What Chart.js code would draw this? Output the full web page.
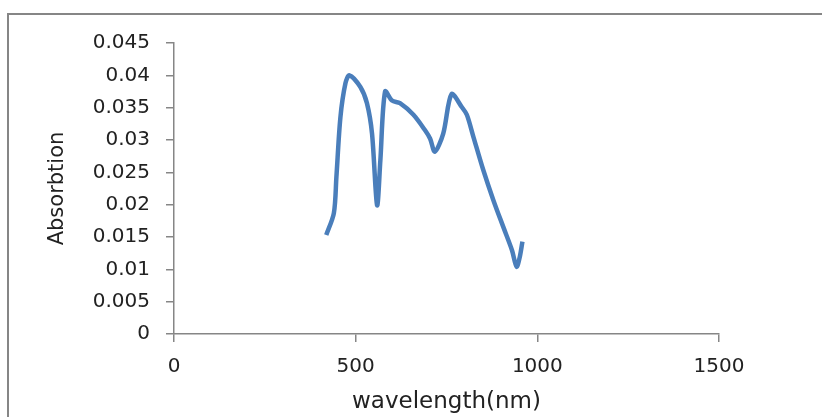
<!DOCTYPE html>
<html>
<head>
<meta charset="utf-8">
<script src="https://cdn.jsdelivr.net/npm/chart.js@4.4.1/dist/chart.umd.min.js"></script>
<style>
  html, body { margin: 0; padding: 0; background: #fff; overflow: hidden; }
  #wrap { position: relative; width: 822px; height: 417px; }
  #frame {
    position: absolute; left: 7px; top: 13px;
    width: 900px; height: 500px;
    border: 2px solid #868686;
  }
  canvas { position: absolute; left: 0; top: 0; }
</style>
</head>
<body>
<div id="wrap">
  <div id="frame"></div>
  <canvas id="c" width="822" height="417"></canvas>
</div>
<script>
// wavelength (nm) / absorbtion
const wavelength = [419, 440, 447, 458, 472, 483, 513, 531, 545, 559, 568, 581, 600, 622, 659, 691, 705, 718, 741, 764, 792, 806, 824, 851, 879, 906, 930, 943, 952, 959];
const absorbtion = [0.0153, 0.0187, 0.0243, 0.0335, 0.0388, 0.0400, 0.0382, 0.0357, 0.0310, 0.0199, 0.0269, 0.0375, 0.0361, 0.0357, 0.0339, 0.0315, 0.0302, 0.0282, 0.0310, 0.0371, 0.0351, 0.0339, 0.0305, 0.0254, 0.0207, 0.0166, 0.0130, 0.0104, 0.0120, 0.0143];

const xTickLabels = ["0", "500", "1000", "1500"];
const yTickLabels = ["0", "0.005", "0.01", "0.015", "0.02", "0.025", "0.03", "0.035", "0.04", "0.045"];

const points = wavelength.map((w, i) => ({ x: w, y: absorbtion[i] }));

const axisGrey = "#868686";
const txt = "#222";

new Chart(document.getElementById("c"), {
  type: "scatter",
  data: {
    datasets: [{
      data: points,
      showLine: true,
      borderColor: "#4a7ebb",
      borderWidth: 4.5,
      pointRadius: 0,
      tension: 0.3,
      fill: false
    }]
  },
  options: {
    responsive: false,
    animation: false,
    layout: { padding: { left: 0, right: 103, top: 43, bottom: 0 } },
    plugins: { legend: { display: false }, tooltip: { enabled: false } },
    scales: {
      x: {
        type: "linear",
        min: 0, max: 1500,
        afterFit: s => { s.height = 83; },
        ticks: {
          stepSize: 500,
          padding: 13,
          color: txt,
          font: { family: "DejaVu Sans", size: 20 },
          callback: (v, i) => xTickLabels[i]
        },
        grid: { drawOnChartArea: false, drawTicks: true, tickLength: 8, color: axisGrey, lineWidth: 1.5 },
        border: { color: axisGrey, width: 1.5 },
        title: {
          display: true, text: "wavelength(nm)", color: txt,
          font: { family: "DejaVu Sans", size: 23 },
          padding: { top: 0, bottom: 1 }
        }
      },
      y: {
        min: 0, max: 0.045,
        afterFit: s => { s.width = 174; },
        ticks: {
          stepSize: 0.005,
          padding: 16,
          color: txt,
          font: { family: "DejaVu Sans", size: 20 },
          callback: (v, i) => yTickLabels[i]
        },
        grid: { drawOnChartArea: false, drawTicks: true, tickLength: 8, color: axisGrey, lineWidth: 1.5 },
        border: { color: axisGrey, width: 1.5 },
        title: {
          display: true, text: "Absorbtion", color: txt,
          font: { family: "DejaVu Sans", size: 21 },
          padding: { top: 45, bottom: 0 }
        }
      }
    }
  }
});
</script>
</body>
</html>
